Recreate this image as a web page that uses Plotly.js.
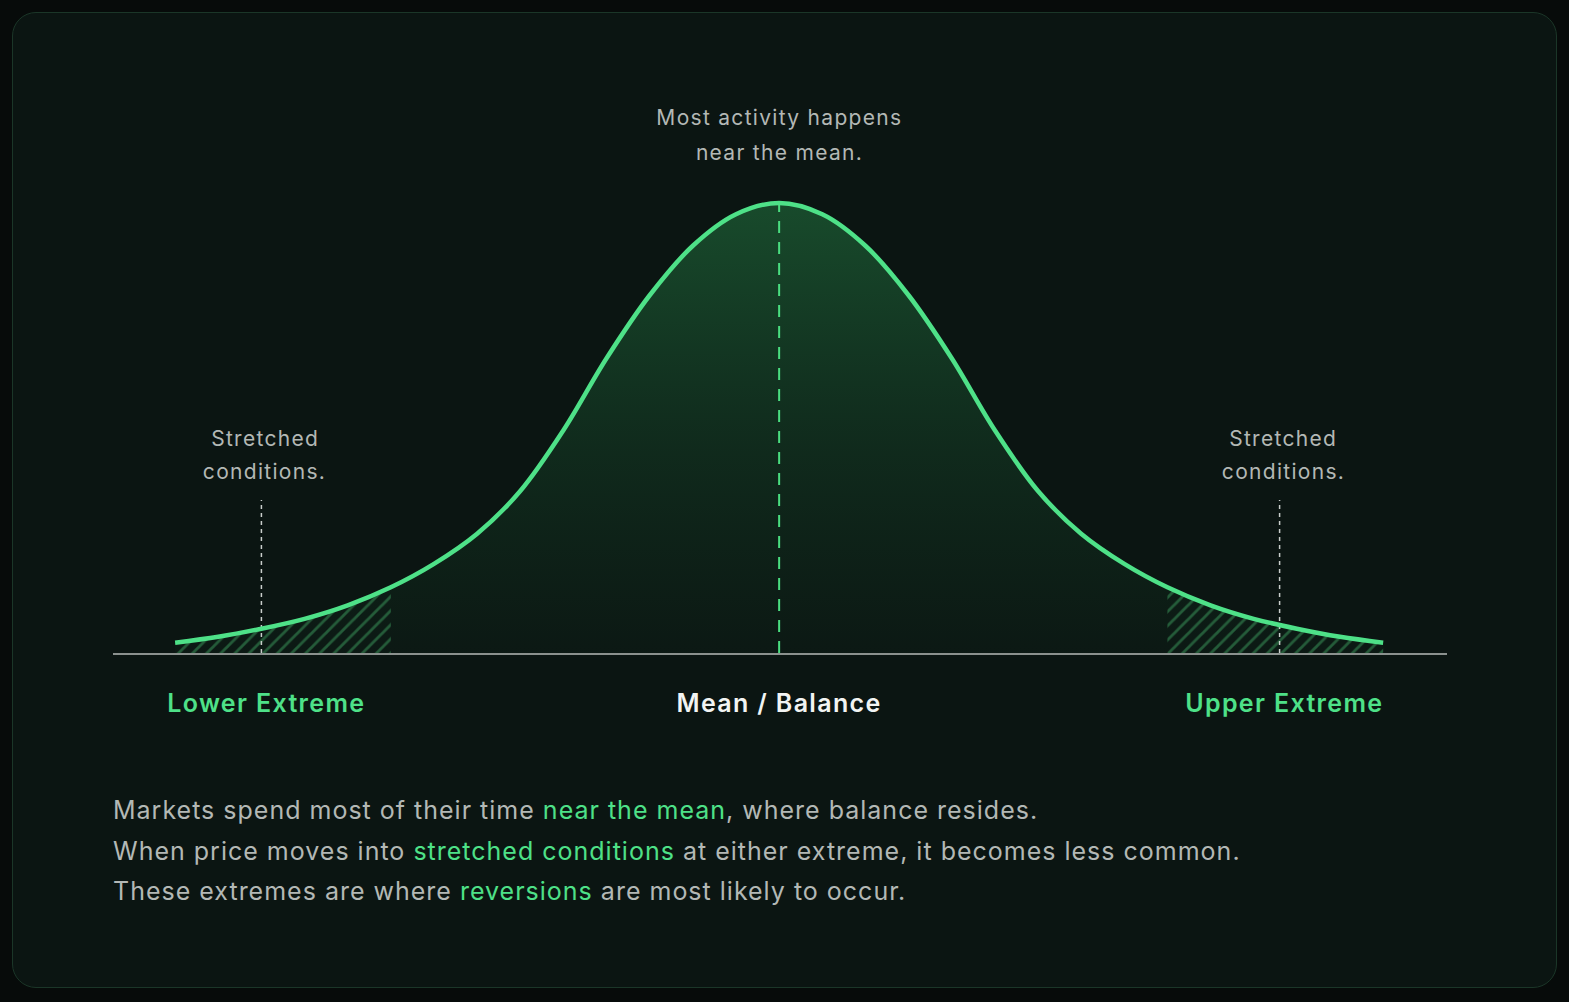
<!DOCTYPE html>
<html>
<head>
<meta charset="utf-8">
<script src="https://cdn.plot.ly/plotly-3.0.1.min.js"></script>
<style>
  html, body { margin: 0; padding: 0; background: #070b0a; width: 1569px; height: 1002px; overflow: hidden; }
  #panel { position: absolute; left: 12px; top: 12px; width: 1543px; height: 974px;
           border: 1px solid #1b3628; border-radius: 24px; background: #0b1512; }
  #chart { position: absolute; left: 0; top: 0; width: 1569px; height: 1002px; }
</style>
</head>
<body>
<div id="panel"></div>
<div id="chart"></div>
<script>
// ---- data ----
const xPos = [-3.5,-3.25,-3,-2.75,-2.5,-2.25,-2,-1.75,-1.5,-1.25,-1,-0.75,-0.5,-0.25,0,
              0.25,0.5,0.75,1,1.25,1.5,1.75,2,2.25,2.5,2.75,3,3.25,3.5];
const density = [2.3,3.6,5.4,7.6,10.6,14.6,19.8,26.5,36,49.5,65.5,79.5,90.5,97.5,100,
                 97.5,90.5,79.5,65.5,49.5,36,26.5,19.8,14.6,10.6,7.6,5.4,3.6,2.3];
const tailLimit = 2.25;              // |x| beyond which the tails are hatched
const meanX = 0;
const stretchedX = [-3.0, 2.9];      // dotted marker lines
const stretchedTop = 34;
const noteX = [-2.98, 2.92];
const labelX = [-2.97, 0, 2.93];
const extremeLabels = ["Lower Extreme", "Mean / Balance", "Upper Extreme"];
const topNote = ["Most activity happens", "near the mean."];
const sideNote = ["Stretched", "conditions."];
const GREEN = "#4ee188";
const GREY = "#b3b8b5";
const bodyLines = [
  ["Markets spend most of their time ", "near the mean", ", where balance resides."],
  ["When price moves into ", "stretched conditions", " at either extreme, it becomes less common."],
  ["These extremes are where ", "reversions", " are most likely to occur."]
];

// ---- build traces ----
const leftX = [], leftY = [], rightX = [], rightY = [];
xPos.forEach((x, i) => {
  if (x <= -tailLimit) { leftX.push(x); leftY.push(density[i]); }
  if (x >= tailLimit) { rightX.push(x); rightY.push(density[i]); }
});
const peak = Math.max(...density);

const hatch = {shape: "/", fgcolor: "rgba(72,190,112,0.8)", bgcolor: "rgba(0,0,0,0)",
               size: 10, solidity: 0.28, fillmode: "overlay"};

const traces = [
  { x: xPos, y: density, type: "scatter", mode: "lines", line: {shape: "spline", width: 0, color: "rgba(0,0,0,0)"},
    fill: "tozeroy",
    fillgradient: {type: "vertical", colorscale: [[0, "rgba(30,110,60,0.04)"], [0.5, "rgba(36,128,70,0.22)"], [1, "rgba(40,140,75,0.45)"]]},
    hoverinfo: "skip" },
  { x: leftX, y: leftY, type: "scatter", mode: "lines", line: {shape: "spline", width: 0, color: "rgba(0,0,0,0)"},
    fill: "tozeroy", fillcolor: "rgba(20,60,35,0.35)", fillpattern: hatch, hoverinfo: "skip" },
  { x: rightX, y: rightY, type: "scatter", mode: "lines", line: {shape: "spline", width: 0, color: "rgba(0,0,0,0)"},
    fill: "tozeroy", fillcolor: "rgba(20,60,35,0.35)", fillpattern: hatch, hoverinfo: "skip" },
  { x: [meanX, meanX], y: [0, peak], type: "scatter", mode: "lines",
    line: {color: "#4ade80", width: 2, dash: "12px,9px"}, hoverinfo: "skip" },
  { x: [stretchedX[0], stretchedX[0]], y: [0, stretchedTop], type: "scatter", mode: "lines",
    line: {color: "#c9cecb", width: 1.5, dash: "4px,4px"}, hoverinfo: "skip" },
  { x: [stretchedX[1], stretchedX[1]], y: [0, stretchedTop], type: "scatter", mode: "lines",
    line: {color: "#c9cecb", width: 1.5, dash: "4px,4px"}, hoverinfo: "skip" },
  { x: xPos, y: density, type: "scatter", mode: "lines",
    line: {shape: "spline", width: 4.5, color: GREEN}, hoverinfo: "skip" }
];

// ---- annotations ----
const F = "Inter, 'Noto Sans', sans-serif";
const ann = [];
ann.push({x: meanX, xref: "x", y: 1.07, yref: "paper", text: topNote[0], showarrow: false,
          font: {family: F, size: 21, color: GREY}, yanchor: "middle"});
ann.push({x: meanX, xref: "x", y: 1.002, yref: "paper", text: topNote[1], showarrow: false,
          font: {family: F, size: 21, color: GREY}, yanchor: "middle"});
noteX.forEach(sx => {
  ann.push({x: sx, xref: "x", y: 0.43, yref: "paper", text: sideNote[0], showarrow: false,
            font: {family: F, size: 21, color: GREY}, yanchor: "middle"});
  ann.push({x: sx, xref: "x", y: 0.364, yref: "paper", text: sideNote[1], showarrow: false,
            font: {family: F, size: 21, color: GREY}, yanchor: "middle"});
});
const labelC = [GREEN, "#f2f4f3", GREEN];
extremeLabels.forEach((t, i) => {
  ann.push({x: labelX[i], xref: "x", y: -0.1, yref: "paper", text: t, showarrow: false,
            font: {family: F, size: 25, color: labelC[i], weight: 600}, yanchor: "middle"});
});
const bodyY = [-0.313, -0.395, -0.475];
bodyLines.forEach((parts, i) => {
  const txt = parts[0] + '<span style="color:' + GREEN + '">' + parts[1] + '</span>' + parts[2];
  ann.push({x: -0.0015, xref: "paper", y: bodyY[i], yref: "paper", text: txt, showarrow: false,
            xanchor: "left", align: "left", yanchor: "middle", font: {family: F, size: 25, color: GREY}});
});

const layout = {
  width: 1569, height: 1002,
  paper_bgcolor: "rgba(0,0,0,0)", plot_bgcolor: "rgba(0,0,0,0)",
  margin: {l: 113, r: 122, t: 153, b: 349},
  showlegend: false,
  xaxis: {range: [-3.86, 3.87], showgrid: false, zeroline: false, showticklabels: false, ticks: "",
          showline: true, linecolor: "#8b918e", linewidth: 2, fixedrange: true},
  yaxis: {range: [0, 111.11], showgrid: false, zeroline: false, showticklabels: false, ticks: "",
          showline: false, fixedrange: true},
  annotations: ann,
  hovermode: false
};

Plotly.newPlot("chart", traces, layout, {displayModeBar: false, staticPlot: true}).then(() => {
  // widen the tracking of the text to match the reference typography
  document.querySelectorAll("#chart .annotation-text").forEach(t => {
    const fs = parseFloat(t.style.fontSize) || 21;
    const w = String(t.style.fontWeight || "");
    let ls = 1.3;
    if (fs >= 25) ls = (w === "600") ? 1.35 : 1.0;
    t.style.letterSpacing = ls + "px";
  });
});
</script>
</body>
</html>
